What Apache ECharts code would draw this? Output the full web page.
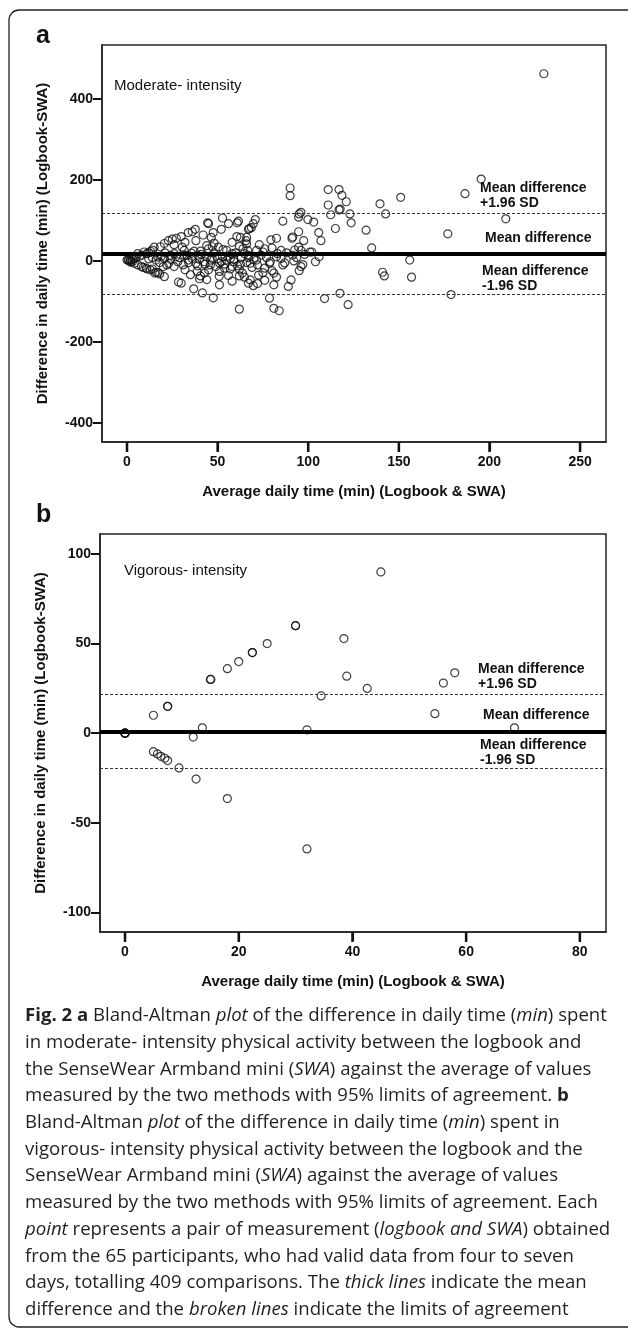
<!DOCTYPE html>
<html><head><meta charset="utf-8">
<script src="https://cdn.jsdelivr.net/npm/echarts@6/dist/echarts.min.js"></script>
<style>html,body{margin:0;padding:0;background:#fff}#c{width:628px;height:1329px}</style>
</head><body><div id="c"></div>
<script>
// ---- Panel a: moderate intensity (average, difference) ----
const moderatePoints = [
 [230,462],[195.4,202],[186.5,166],[209,104],[177,67],[178.8,-83],[151,157],[139.6,141],[142.7,116],[131.9,76],[135,32],[156,2],[141,-28],[142,-37],[157,-40],
 [111,176],[117,176],[118.6,162],[121,146],[111,138],[117,126],[117.6,128],[112.4,114],[123,116],[123.7,94],[115,80],
 [90,180],[90,161],[86,98],[95,116],[96,120],[94.7,108],[99.8,102],[103,96],[105.8,70],[107,50],[94.7,72],[91.4,59],[97.5,50],[106,10],
 [117.5,-80],[109,-93],[122,-108],[84,-123],[81,-117],[62,-119],[78.6,-92],[47.6,-91],[41.6,-79],[36.8,-69],[51,-59],[29.9,-55],[28.4,-52],[20.6,-39],[15.3,-30],
 [90.5,-47],[89,-63],[81,-59],[82.5,-40],[81,-30],[80,-24],[78.6,-6],[96,-14],[97,-9],[93.6,8],[87,-5],[96,26],[100.9,22],[92.5,27],[94.7,34],[91,56],[82.5,56],[79.4,52],
 [70.8,102],[69.7,92],[68.6,82],[67.5,80],[66,58],[67,78],[61.5,98],[60.8,94],[56,92],[52.7,106],[45,92],[44.5,94],[52,78],[47.6,70],[46.5,58],[60.6,60],[62.6,58],[65.7,50],
 [36,72],[37.7,78],[33.8,70],[29.9,60],[27.2,56],[25,54],[22.8,50],[20.6,43],[18.4,35],[15,34],[14,27],[9.5,22],[6,18],[0.7,3],[0,2],[1.8,0],[3,-2],
 [6,-10],[8,-14],[10.6,-18],[12.8,-22],[17,-29],[14,-20],[20,-14],[22,-10],[26,-14],[32,-22],[38.7,-26],[40.5,-37],[42.7,-30],[45,-22],[50.9,-38],[51,-26],[53.8,-18],[58,-14],
 [62,-21],[63.7,-30],[64.8,-40],[68,-47],[69.7,-61],[67,-55],[72.6,-35],[75,-29],[62,-37],[62.6,-8],[68,-6],[74,14],[71.5,26],[75,22],[76,30],[80,32],[85,26],[66.6,26],
 [64.8,18],[58,18],[55,26],[50.4,34],[47,35],[45,30],[40.5,24],[39,14],[35.6,19],[31.6,26],[30.5,34],[31.6,14],[27,10],[24,14],[20.6,6],[17,10],[33.8,2],[38,-6],[42.7,-2],
 [46,-10],[51,-5],[55,2],[59,-2],[47,6],[52.7,10],[57,6],[71.5,2],[67,8],[85,6],[82.5,10],[91.4,14],
 [12,5],[14,8],[16,2],[18,-4],[19,12],[21,20],[23,-6],[24,4],[26,18],[28,-2],[29,8],[31,-10],[33,14],[34,-4],[36,6],[37,24],[39,-12],[40,4],[41,16],[43,-8],[44,10],[46,2],
 [48,20],[49,-14],[50,6],[52,-2],[53,28],[54,-8],[56,12],[57,-20],[59,4],[60,20],[61,-12],[63,8],[64,30],[66,-4],[67,14],[69,-16],[70,4],[72,-10],[73,40],[76,-18],[77,8],
 [79,-2],[83,18],[86,-10],[88,20],[92,0],[95,-24],[98,16],[102,22],[104,-2],[26,40],[32,46],[38,50],[42,64],[44,38],[48,44],[58,46],[62,36],[66,42],[35,-34],[40,-44],
 [44,-46],[56,-36],[58,-50],[72,-56],[76,-48],[1,1],[2,3],[2,-3],[3,5],[4,-6],[5,8],[4,7],[7,12],[8,14],[9,-16],[11,-20],[12,20],[13,24],[11,18],[16,-28],[18,-32]
];
const moderateMean = 17, moderateUpper = 117, moderateLower = -83;
const moderateXTicks = [0, 50, 100, 150, 200, 250];
const moderateYTicks = [-400, -200, 0, 200, 400];

// ---- Panel b: vigorous intensity ----
const vigorousPoints = [
 [45,90],[30,60],[30,60],[38.5,52.8],[25,50],[22.4,45],[22.4,45],[20,40],[18,36],[39,31.8],[58,33.7],[15.1,30],[15,30],
 [56,28],[42.6,25],[34.5,20.8],[54.5,10.9],[7.5,15],[7.5,15],[5,10],[13.6,3],[12,-2.2],[32,1.9],[68.5,3],
 [0,0],[0,0],[0,0],[0,0],[5,-10.3],[5.7,-11.6],[6.3,-12.9],[7,-14],[7.5,-15.3],[9.5,-19.4],[12.5,-25.6],[18,-36.5],[32,-64.6]
];
const vigorousMean = 1, vigorousUpper = 21.7, vigorousLower = -19.7;
const vigorousXTicks = [0, 20, 40, 60, 80];
const vigorousYTicks = [-100, -50, 0, 50, 100];

const captionLines = [
 '{b|Fig. 2 a} Bland-Altman {i|plot} of the difference in daily time ({i|min}) spent',
 'in moderate- intensity physical activity between the logbook and',
 'the SenseWear Armband mini ({i|SWA}) against the average of values',
 'measured by the two methods with 95% limits of agreement. {b|b}',
 'Bland-Altman {i|plot} of the difference in daily time ({i|min}) spent in',
 'vigorous- intensity physical activity between the logbook and the',
 'SenseWear Armband mini ({i|SWA}) against the average of values',
 'measured by the two methods with 95% limits of agreement. Each',
 '{i|point} represents a pair of measurement ({i|logbook and SWA}) obtained',
 'from the 65 participants, who had valid data from four to seven',
 'days, totalling 409 comparisons. The {i|thick lines} indicate the mean',
 'difference and the {i|broken lines} indicate the limits of agreement'
];

const FONT = '"Liberation Sans", Arial, sans-serif';
const chart = echarts.init(document.getElementById('c'), null, {renderer: 'canvas'});

function xAxisCfg(idx, min, max, ticks) {
  return {
    type: 'value', gridIndex: idx, min: min, max: max, position: 'bottom',
    name: 'Average daily time (min) (Logbook & SWA)', nameLocation: 'middle', nameGap: 42,
    nameTextStyle: {fontFamily: FONT, fontWeight: 'bold', fontSize: 15, color: '#111'},
    axisLine: {show: true, onZero: false, lineStyle: {color: '#222', width: 1.5}},
    axisTick: {show: true, inside: false, length: 9, lineStyle: {color: '#111', width: 2.2}, customValues: ticks},
    axisLabel: {show: true, margin: 13, fontFamily: FONT, fontWeight: 'bold', fontSize: 14, color: '#111', customValues: ticks},
    splitLine: {show: false}
  };
}
function yAxisCfg(idx, min, max, ticks) {
  return {
    type: 'value', gridIndex: idx, min: min, max: max, position: 'left',
    name: 'Difference in daily time (min) (Logbook-SWA)', nameLocation: 'middle', nameGap: 52,
    nameTextStyle: {fontFamily: FONT, fontWeight: 'bold', fontSize: 15, color: '#111'},
    axisLine: {show: true, onZero: false, lineStyle: {color: '#222', width: 1.5}},
    axisTick: {show: true, inside: false, length: 9, lineStyle: {color: '#111', width: 2}, customValues: ticks},
    axisLabel: {show: true, margin: 9, fontFamily: FONT, fontWeight: 'bold', fontSize: 14, color: '#111', customValues: ticks},
    splitLine: {show: false}
  };
}
function lines(mean, up, low) {
  const dash = {color: '#333', width: 1, type: [3, 2]};
  return {
    silent: true, symbol: 'none', label: {show: false},
    data: [
      {yAxis: up, lineStyle: dash},
      {yAxis: low, lineStyle: dash},
      {yAxis: mean, lineStyle: {color: '#000', width: 4, type: 'solid'}}
    ]
  };
}
const circle = {color: 'rgba(0,0,0,0)', borderColor: '#111', borderWidth: 1.2};

const option = {
  animation: false,
  backgroundColor: '#fff',
  grid: [
    {left: 102, top: 45, width: 504, height: 397, show: true, borderColor: '#222', borderWidth: 1.5},
    {left: 100, top: 534, width: 506, height: 398, show: true, borderColor: '#222', borderWidth: 1.5}
  ],
  xAxis: [xAxisCfg(0, -13.8, 264.3, moderateXTicks), xAxisCfg(1, -4.4, 84.6, vigorousXTicks)],
  yAxis: [yAxisCfg(0, -447, 533, moderateYTicks), yAxisCfg(1, -111, 111.2, vigorousYTicks)],
  series: [
    {type: 'scatter', xAxisIndex: 0, yAxisIndex: 0, data: moderatePoints, symbol: 'circle', symbolSize: 8, itemStyle: circle, markLine: lines(moderateMean, moderateUpper, moderateLower), z: 3},
    {type: 'scatter', xAxisIndex: 1, yAxisIndex: 1, data: vigorousPoints, symbol: 'circle', symbolSize: 8, itemStyle: circle, markLine: lines(vigorousMean, vigorousUpper, vigorousLower), z: 3}
  ]
};
chart.setOption(option);

function px(gridIdx, x, y) { return chart.convertToPixel({xAxisIndex: gridIdx, yAxisIndex: gridIdx}, [x, y]); }
const lblStyle = {fontFamily: FONT, fontWeight: 'bold', fontSize: 14, fill: '#111'};
const graphics = [];
graphics.push({type: 'rect', shape: {x: 9, y: 10, width: 640, height: 1317, r: 10}, style: {fill: null, stroke: '#222', lineWidth: 1.3}, silent: true});
graphics.push({type: 'text', left: 36, top: 24, style: {text: 'a', fontFamily: FONT, fontWeight: 'bold', fontSize: 25, fill: '#111'}});
graphics.push({type: 'text', left: 36, top: 503, style: {text: 'b', fontFamily: FONT, fontWeight: 'bold', fontSize: 25, fill: '#111'}});
graphics.push({type: 'text', left: 114, top: 78, style: {text: 'Moderate- intensity', fontFamily: FONT, fontSize: 15, fill: '#111'}});
graphics.push({type: 'text', left: 124, top: 563, style: {text: 'Vigorous- intensity', fontFamily: FONT, fontSize: 15, fill: '#111'}});

// x-axis tick marks below each plot, positioned through the axis scale
function xTicks(g, ticks, yMin) {
  ticks.forEach(function (v) {
    const p = px(g, v, yMin);
    graphics.push({type: 'rect', zlevel: 2, z: 100, shape: {x: p[0] - 1.2, y: p[1], width: 2.4, height: 10}, style: {fill: '#111'}, silent: true});
  });
}
xTicks(0, moderateXTicks, -447);
xTicks(1, vigorousXTicks, -111);

function limitLabels(g, up, mean, low, xl) {
  const pu = px(g, 0, up)[1], pm = px(g, 0, mean)[1], pl = px(g, 0, low)[1];
  graphics.push({type: 'text', x: xl, y: pu - 33, style: Object.assign({text: 'Mean difference\n+1.96 SD', lineHeight: 15}, lblStyle)});
  graphics.push({type: 'text', x: xl + 5, y: pm - 23, style: Object.assign({text: 'Mean difference'}, lblStyle)});
  graphics.push({type: 'text', x: xl + 2, y: pl - 31, style: Object.assign({text: 'Mean difference\n-1.96 SD', lineHeight: 15}, lblStyle)});
}
limitLabels(0, moderateUpper, moderateMean, moderateLower, 480);
limitLabels(1, vigorousUpper, vigorousMean, vigorousLower, 478);

const capTop = 1016, capStep = 26.7, capSize = 18.6;
captionLines.forEach(function (t, i) {
  graphics.push({type: 'text', x: 25, y: capTop + i * capStep, style: {
    text: t, fontFamily: '"Open Sans", "Noto Sans", sans-serif', fontSize: capSize, fill: '#231f20', verticalAlign: 'middle',
    rich: {b: {fontFamily: '"Open Sans", sans-serif', fontWeight: 'bold', fontSize: capSize, fill: '#231f20'},
           i: {fontFamily: '"Open Sans", sans-serif', fontStyle: 'italic', fontSize: capSize, fill: '#231f20'}}
  }});
});
chart.setOption({graphic: graphics});
</script></body></html>
